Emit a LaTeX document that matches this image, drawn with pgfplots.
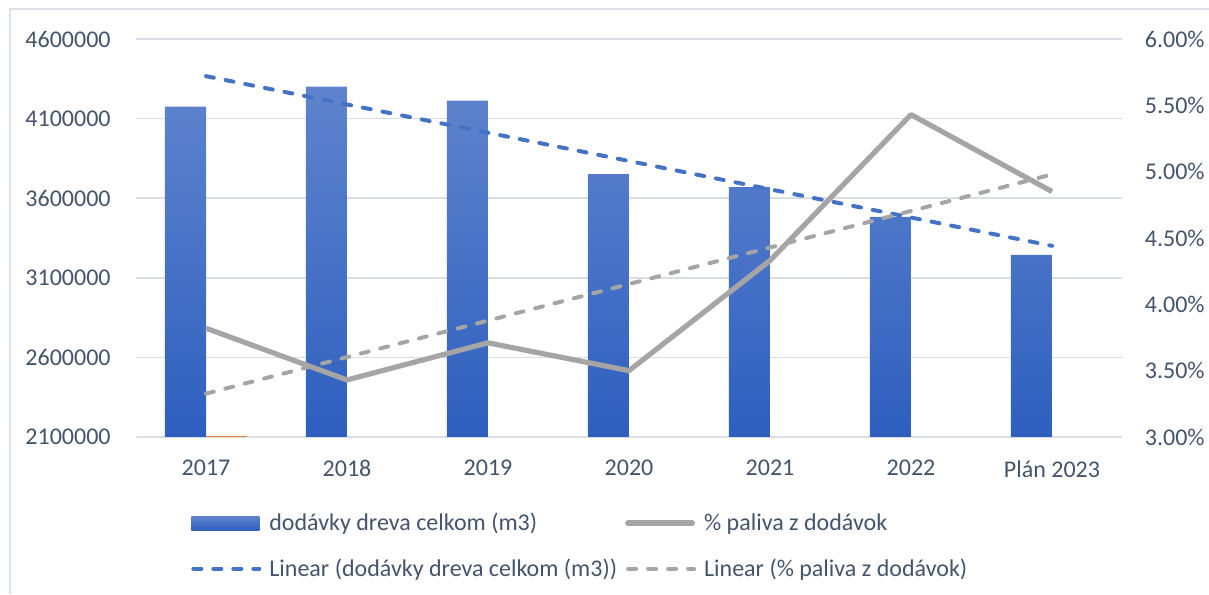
\documentclass[border=0pt]{standalone}
\usepackage{fontspec}
\setmainfont{Carlito}
\usepackage{pgfplots}
\pgfplotsset{compat=1.18}
\definecolor{bartop}{HTML}{5F84CD}
\definecolor{barbot}{HTML}{2E5FBF}
\definecolor{trendblue}{HTML}{4472C4}
\definecolor{grayline}{HTML}{A5A5A5}
\definecolor{gridc}{HTML}{DADEE4}
\definecolor{txtc}{HTML}{44546A}
\definecolor{framec}{HTML}{DEE2E8}
\definecolor{orangec}{HTML}{ED7D31}
\begin{document}
\begin{tikzpicture}
\useasboundingbox (0,0) rectangle (604.5pt,297pt);
\draw[framec, line width=1pt] (5pt,0) -- (5pt,292.5pt) -- (604.5pt,292.5pt);
\begin{axis}[
  at={(67.75pt,78.5pt)}, anchor=south west,
  width=493.5pt, height=199pt, scale only axis,
  xmin=-0.5, xmax=6.5, ymin=2100000, ymax=4600000,
  xtick={0,1,2,3,4,5,6},
  xticklabels={2017,2018,2019,2020,2021,2022,Plán 2023},
  ytick={2100000,2600000,3100000,3600000,4100000,4600000},
  yticklabels={2100000,2600000,3100000,3600000,4100000,4600000},
  scaled y ticks=false,
  ymajorgrids, grid style={gridc, line width=0.75pt},
  axis line style={draw=none}, major tick length=0pt,
  tick label style={font=\fontsize{12}{14}\selectfont, text=txtc, inner sep=0pt},
  yticklabel style={anchor=east, xshift=-12.25pt},
  xticklabel style={anchor=north, yshift=-11.5pt},
]
\addplot[ybar, bar width=20.5pt, bar shift=-10.25pt, draw=none,
  top color=bartop, bottom color=barbot]
  coordinates {(0,4175000) (1,4301000) (2,4213000) (3,3751000) (4,3669000) (5,3483000) (6,3244000)};
\addplot[ybar, bar width=20.5pt, bar shift=10.25pt, draw=none, fill=orangec]
  coordinates {(0,2104000)};
\addplot[trendblue, line width=2pt, line cap=round, dash pattern=on 4pt off 6pt]
  coordinates {(0,4366500) (6,3300900)};
\end{axis}
\begin{axis}[
  at={(67.75pt,78.5pt)}, anchor=south west,
  width=493.5pt, height=199pt, scale only axis,
  xmin=-0.5, xmax=6.5, ymin=3, ymax=6,
  ytick={3,3.5,4,4.5,5,5.5,6},
  yticklabels={3.00\%,3.50\%,4.00\%,4.50\%,5.00\%,5.50\%,6.00\%},
  axis y line*=right, axis x line=none,
  axis line style={draw=none}, major tick length=0pt,
  tick label style={font=\fontsize{12}{14}\selectfont, text=txtc, inner sep=0pt},
  yticklabel style={anchor=west, xshift=11pt},
  legend columns=2,
  legend style={at={(0.0562,-0.19)}, anchor=north west, draw=none, fill=none,
    inner sep=0pt, font=\fontsize{12}{14}\selectfont, text=txtc,
    row sep=12.5pt, nodes={inner sep=0pt, anchor=west},
    /tikz/every odd column/.append style={column sep=4pt},
    /tikz/every even column/.append style={column sep=4pt}},
]
\addlegendimage{legend image code/.code={\path[draw=none, top color=bartop, bottom color=barbot] (0pt,-3.5pt) rectangle (34pt,3.5pt);}}
\addlegendentry{dodávky dreva celkom (m3)}
\addplot[grayline, line width=2.6pt, line join=round,
  legend image code/.code={\draw[grayline, line width=3pt, line cap=round] (1pt,0pt) -- (33pt,0pt);}]
  coordinates {(0,3.82) (1,3.43) (2,3.71) (3,3.50) (4,4.33) (5,5.43) (6,4.85)};
\addlegendentry{\% paliva z dodávok}
\addlegendimage{legend image code/.code={\draw[trendblue, line width=2pt, line cap=round, dash pattern=on 4pt off 6pt] (1pt,0pt) -- (34pt,0pt);}}
\addlegendentry{Linear (dodávky dreva celkom (m3))}
\addplot[grayline, line width=2pt, line cap=round, dash pattern=on 4pt off 6pt,
  legend image code/.code={\draw[grayline, line width=2pt, line cap=round, dash pattern=on 4pt off 6pt] (1pt,0pt) -- (34pt,0pt);}]
  coordinates {(0,3.327) (6,4.979)};
\addlegendentry{Linear (\% paliva z dodávok)}
\end{axis}
\end{tikzpicture}
\end{document}
